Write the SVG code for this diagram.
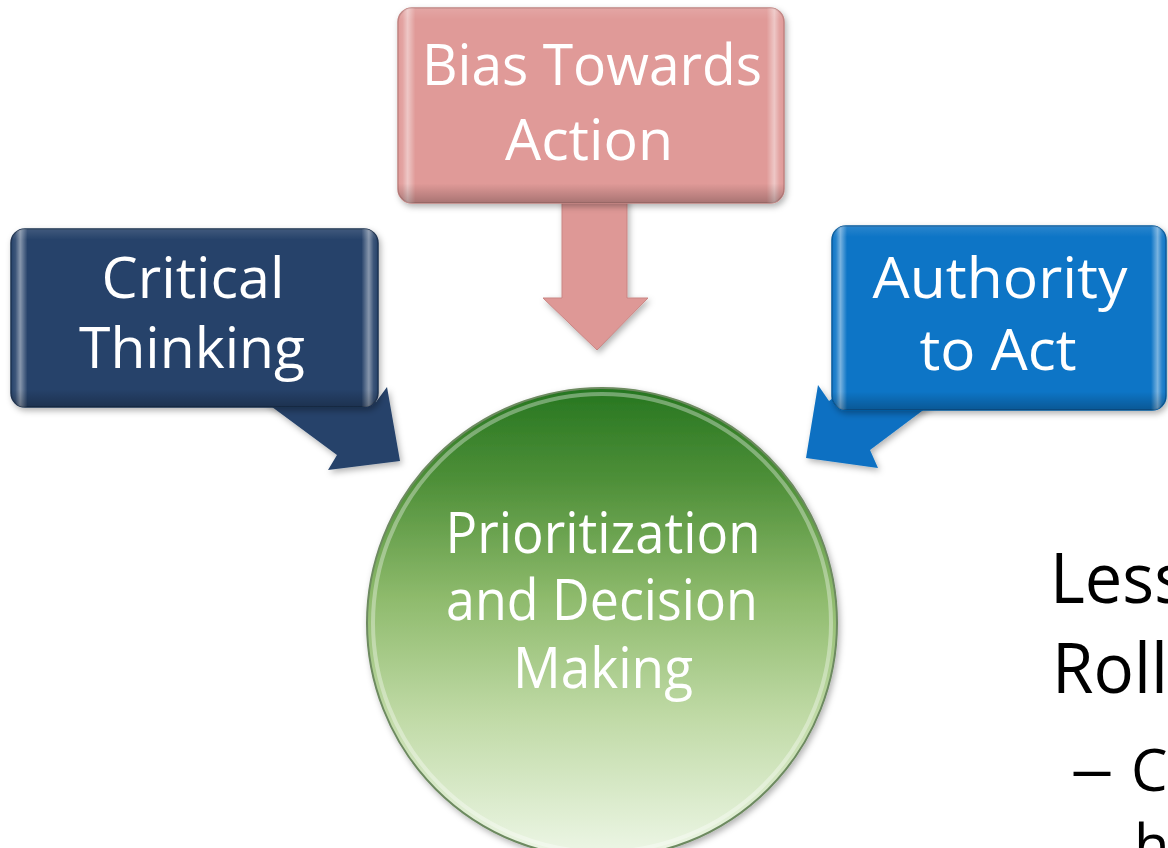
<svg xmlns="http://www.w3.org/2000/svg" width="1168" height="848" viewBox="0 0 1168 848">
  <defs>
    <style>
      .lbl { font-family: "Open Sans", "Liberation Sans", sans-serif; font-size: 56px; fill: #ffffff; text-anchor: middle; }
      .side { font-family: "Open Sans", "Liberation Sans", sans-serif; fill: #000000; }
      .hl { fill: url(#edgeHi); }
      .sh { fill: url(#bottomSh); }
    </style>
    <linearGradient id="edgeHi" x1="0" y1="0" x2="1" y2="0">
      <stop offset="0" stop-color="#ffffff" stop-opacity="0"/>
      <stop offset="0.012" stop-color="#ffffff" stop-opacity="0.1"/>
      <stop offset="0.025" stop-color="#ffffff" stop-opacity="0.45"/>
      <stop offset="0.045" stop-color="#ffffff" stop-opacity="0"/>
      <stop offset="0.955" stop-color="#ffffff" stop-opacity="0"/>
      <stop offset="0.975" stop-color="#ffffff" stop-opacity="0.45"/>
      <stop offset="0.988" stop-color="#ffffff" stop-opacity="0.1"/>
      <stop offset="1" stop-color="#ffffff" stop-opacity="0"/>
    </linearGradient>
    <linearGradient id="bottomSh" x1="0" y1="0" x2="0" y2="1">
      <stop offset="0" stop-color="#ffffff" stop-opacity="0.12"/>
      <stop offset="0.06" stop-color="#ffffff" stop-opacity="0"/>
      <stop offset="0.9" stop-color="#000000" stop-opacity="0"/>
      <stop offset="1" stop-color="#000000" stop-opacity="0.25"/>
    </linearGradient>
    <linearGradient id="circFill" x1="0" y1="0" x2="0" y2="1">
      <stop offset="0" stop-color="#267620"/>
      <stop offset="0.2" stop-color="#4f9039"/>
      <stop offset="0.45" stop-color="#8fbb6d"/>
      <stop offset="0.7" stop-color="#c0daa6"/>
      <stop offset="0.95" stop-color="#e6f2dc"/>
      <stop offset="1" stop-color="#eef6e8"/>
    </linearGradient>
    <filter id="shadow" x="-10%" y="-10%" width="120%" height="125%">
      <feDropShadow dx="2" dy="3" stdDeviation="3" flood-color="#000000" flood-opacity="0.3"/>
    </filter>
  </defs>

  <rect x="0" y="0" width="1168" height="848" fill="#ffffff"/>

  <g id="connectors">
    <polygon id="arrow-critical" points="207,359 337,455 328,470 400,461 387,387 376,402 311,354" fill="#25426a" filter="url(#shadow)"/>
    <polygon id="arrow-bias" points="562,195 627,195 627,298 648,298 597,350 543,298 562,298" fill="#de9896" stroke="#c98583" stroke-width="1" filter="url(#shadow)"/>
    <polygon id="arrow-authority" points="950,390 870,450 878,468 806,458 818,385 829,401 909,341" fill="#0a70c2" filter="url(#shadow)"/>
  </g>

  <g id="node-critical">
    <rect x="11" y="229" width="367" height="178" rx="14" fill="#27436a" stroke="#1c3150" stroke-width="1.5" filter="url(#shadow)"/>
    <rect x="11" y="229" width="367" height="178" rx="14" class="hl"/>
    <rect x="11" y="229" width="367" height="178" rx="14" class="sh"/>
    <text class="lbl" x="193" y="298" textLength="183" lengthAdjust="spacingAndGlyphs">Critical</text>
    <text class="lbl" x="192" y="368" textLength="226" lengthAdjust="spacingAndGlyphs">Thinking</text>
  </g>

  <g id="node-bias">
    <rect x="398" y="8" width="386" height="195" rx="14" fill="#e09a98" stroke="#c08280" stroke-width="1.5" filter="url(#shadow)"/>
    <rect x="398" y="8" width="386" height="195" rx="14" class="hl"/>
    <rect x="398" y="8" width="386" height="195" rx="14" class="sh"/>
    <text class="lbl" x="592" y="85" textLength="340" lengthAdjust="spacingAndGlyphs">Bias Towards</text>
    <text class="lbl" x="589" y="160" textLength="168" lengthAdjust="spacingAndGlyphs">Action</text>
  </g>

  <g id="node-authority">
    <rect x="832" y="226" width="334" height="184" rx="14" fill="#0a74c6" stroke="#075a9c" stroke-width="1.5" filter="url(#shadow)"/>
    <rect x="832" y="226" width="334" height="184" rx="14" class="hl"/>
    <rect x="832" y="226" width="334" height="184" rx="14" class="sh"/>
    <text class="lbl" x="1000" y="298" textLength="255" lengthAdjust="spacingAndGlyphs">Authority</text>
    <text class="lbl" x="998" y="370" textLength="157" lengthAdjust="spacingAndGlyphs">to Act</text>
  </g>

  <g id="node-center">
    <circle cx="602" cy="623" r="235" fill="url(#circFill)" stroke="#6d8a60" stroke-width="2" filter="url(#shadow)"/>
    <circle cx="602" cy="623" r="229" fill="none" stroke="#ffffff" stroke-opacity="0.35" stroke-width="4"/>
    <text class="lbl" x="603" y="553" textLength="315" lengthAdjust="spacingAndGlyphs">Prioritization</text>
    <text class="lbl" x="602" y="620" textLength="312" lengthAdjust="spacingAndGlyphs">and Decision</text>
    <text class="lbl" x="603" y="688" textLength="180" lengthAdjust="spacingAndGlyphs">Making</text>
  </g>

  <g id="side-text">
    <text class="side" x="1050" y="603" font-size="70" textLength="136" lengthAdjust="spacingAndGlyphs">Less</text>
    <text class="side" x="1052" y="693" font-size="70" textLength="116" lengthAdjust="spacingAndGlyphs">Roll</text>
    <text class="side" font-size="58" x="1070" y="790" textLength="44" lengthAdjust="spacingAndGlyphs">–</text>
    <text class="side" font-size="58" x="1131" y="791">C</text>
    <text class="side" font-size="58" x="1134" y="866">h</text>
  </g>
</svg>
